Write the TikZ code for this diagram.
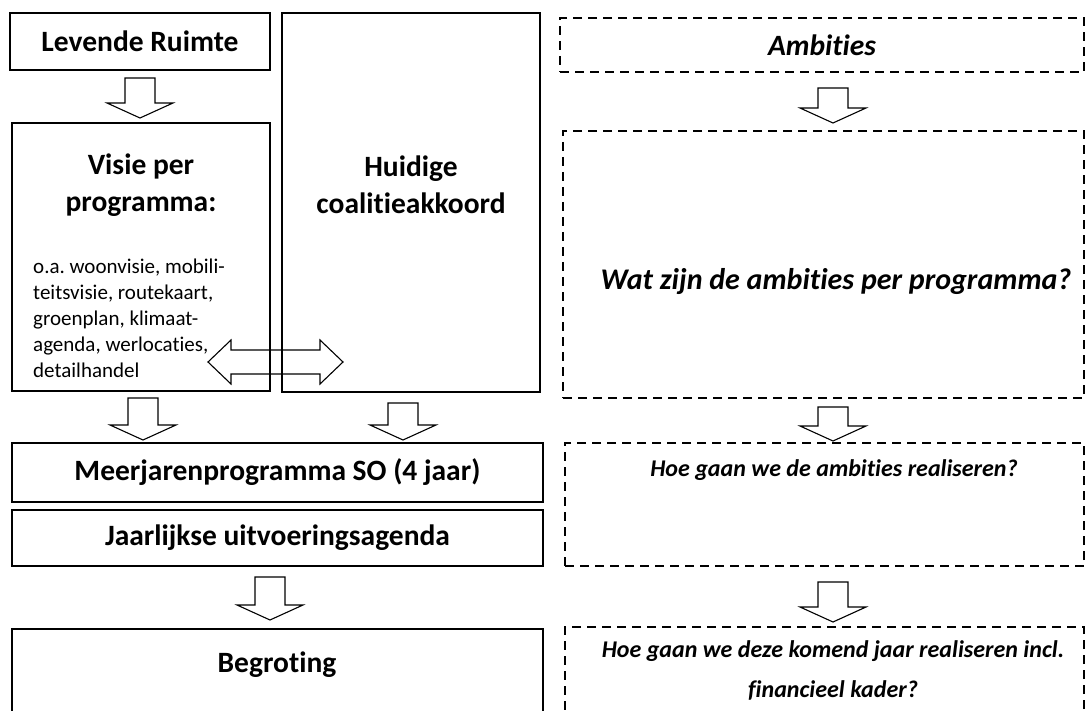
\documentclass[tikz,border=0pt]{standalone}
\usepackage{fontspec}
\setmainfont[Ligatures=NoCommon]{Carlito}
\frenchspacing
\newcommand{\boxnode}[6]{\node[#2, minimum width={#5-#3}, minimum height={#6-#4}] (#1) at ({(#3+#5)/2},{(#4+#6)/2}) {};}
\newcommand{\dnarr}[4]{% name, x, ytop, ybot
  \draw[blk] (#2-15,#3) -- (#2+15,#3) -- (#2+15,#4-15) -- (#2+33,#4-15) -- (#2,#4) -- (#2-33,#4-15) -- (#2-15,#4-15) -- cycle;
  \coordinate (#1) at (#2,#4);}
\begin{document}
\begin{tikzpicture}[x=1pt,y=-1pt,
  box/.style={draw=black, line width=1.3pt, inner sep=0pt},
  dbox/.style={draw=black, line width=1.3pt, dash pattern=on 9pt off 6pt, inner sep=0pt},
  blk/.style={draw=black, line width=1.1pt, line join=miter},
  hd/.style={font=\fontsize{29.5}{37}\selectfont\bfseries, align=center, inner sep=0pt},
  hdi/.style={font=\fontsize{29.5}{37}\selectfont\bfseries\itshape, align=center, inner sep=0pt},
  body/.style={font=\fontsize{21}{26}\selectfont, align=left, inner sep=0pt},
  qs/.style={font=\fontsize{24}{40}\selectfont\bfseries\itshape, align=center, inner sep=0pt}]
\useasboundingbox (0,0) rectangle (1086,711);
\clip (0,0) rectangle (1086,711);
% left column
\boxnode{lev}{box}{10}{13}{270}{70}
\node[hd] (levt) at (lev.center) {Levende Ruimte};
\boxnode{vis}{box}{12}{123}{270}{391}
\node[hd] (vist) at (141,185) {Visie per\\programma:};
\node[body, anchor=north west] (visb) at (33,259) {o.a. woonvisie, mobili-\\teitsvisie, routekaart,\\groenplan, klimaat-\\agenda, werlocaties,\\detailhandel};
\boxnode{hui}{box}{282}{13}{540}{392}
\node[hd] (huit) at (411,185) {Huidige\\coalitieakkoord};
\boxnode{mjp}{box}{12}{443}{543}{502}
\node[hd] (mjpt) at (mjp.center) {Meerjarenprogramma SO (4 jaar)};
\boxnode{jua}{box}{12}{510}{543}{566}
\node[hd] (juat) at (jua.center) {Jaarlijkse uitvoeringsagenda};
\boxnode{beg}{box}{12}{629}{543}{760}
\node[hd] (begt) at (277,665) {Begroting};
% right column
\boxnode{amb}{dbox}{560}{18}{1084}{72}
\node[hdi] (ambt) at (amb.center) {Ambities};
\boxnode{wat}{dbox}{563}{131}{1084}{398}
\node[hdi, font=\fontsize{30}{37}\selectfont\bfseries\itshape] (watt) at (836,282) {Wat zijn de ambities per programma?};
\boxnode{hoe}{dbox}{565}{443}{1084}{566}
\node[qs] (hoet) at (834,470) {Hoe gaan we de ambities realiseren?};
\boxnode{hoj}{dbox}{565}{627}{1084}{760}
\node[qs] (hojt) at (833,670) {Hoe gaan we deze komend jaar realiseren incl.\\financieel kader?};
% block arrows
\dnarr{a1}{140}{78}{118}
\dnarr{a2}{143}{398}{440}
\dnarr{a3}{403}{403}{440}
\dnarr{a4}{270}{577}{620}
\dnarr{a5}{833}{88}{123}
\dnarr{a6}{833}{407}{441}
\dnarr{a7}{833}{582}{622}
\draw[blk] (208,362) -- (231,340) -- (231,350) -- (320,350) -- (320,340) -- (343,362) -- (320,384) -- (320,374) -- (231,374) -- (231,384) -- cycle;
\end{tikzpicture}
\end{document}
